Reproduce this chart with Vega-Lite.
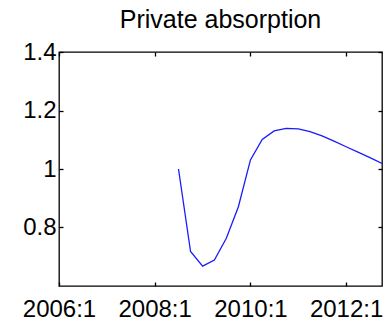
{
  "$schema": "https://vega.github.io/schema/vega-lite/v6.json",
  "autosize": "none",
  "width": 323,
  "height": 234,
  "padding": {"left": 59, "top": 52, "right": 4, "bottom": 36},
  "background": "white",
  "config": {
    "view": {"stroke": "black", "strokeWidth": 1.3},
    "font": "Liberation Sans",
    "axis": {"grid": false, "domain": false, "ticks": true, "tickColor": "black", "labelColor": "black", "labelFont": "Liberation Sans", "tickSize": -4, "tickWidth": 1.3}
  },
  "title": {"text": "Private absorption", "fontSize": 25, "fontWeight": "normal", "font": "Liberation Sans", "color": "black", "offset": 7},
  "data": {"values": [
    {"date": "2008-07-01", "value": 1.0},
    {"date": "2008-10-01", "value": 0.718},
    {"date": "2009-01-01", "value": 0.668},
    {"date": "2009-04-01", "value": 0.689},
    {"date": "2009-07-01", "value": 0.763},
    {"date": "2009-10-01", "value": 0.871},
    {"date": "2010-01-01", "value": 1.031},
    {"date": "2010-04-01", "value": 1.101},
    {"date": "2010-07-01", "value": 1.13},
    {"date": "2010-10-01", "value": 1.139},
    {"date": "2011-01-01", "value": 1.137},
    {"date": "2011-04-01", "value": 1.128},
    {"date": "2011-07-01", "value": 1.113},
    {"date": "2011-10-01", "value": 1.095},
    {"date": "2012-01-01", "value": 1.076},
    {"date": "2012-04-01", "value": 1.058},
    {"date": "2012-07-01", "value": 1.039},
    {"date": "2012-10-01", "value": 1.019}
  ]},
  "layer": [
    {
      "mark": {"type": "line", "color": "#1a1aff", "strokeWidth": 1.3, "clip": true},
      "encoding": {
        "x": {"field": "date", "type": "temporal", "scale": {"domain": [{"year": 2006, "month": 1, "date": 1}, {"year": 2012, "month": 10, "date": 1}]},
              "axis": {"title": null, "orient": "bottom", "values": [{"year": 2006, "month": 1, "date": 1}, {"year": 2008, "month": 1, "date": 1}, {"year": 2010, "month": 1, "date": 1}, {"year": 2012, "month": 1, "date": 1}], "format": "%Y:1", "labelFontSize": 24, "labelPadding": 15, "labelFlush": false, "labelOverlap": false}},
        "y": {"field": "value", "type": "quantitative", "scale": {"domain": [0.6, 1.4], "nice": false, "zero": false},
              "axis": {"title": null, "orient": "left", "values": [0.8, 1.0, 1.2, 1.4], "labelExpr": "datum.value == 1 ? '1' : format(datum.value, '.1f')", "labelFontSize": 24, "labelPadding": 7}}
      }
    },
    {
      "mark": {"type": "line", "opacity": 0},
      "encoding": {
        "x": {"field": "date", "type": "temporal", "scale": {"domain": [{"year": 2006, "month": 1, "date": 1}, {"year": 2012, "month": 10, "date": 1}]},
              "axis": {"title": null, "orient": "top", "labels": false, "values": [{"year": 2006, "month": 1, "date": 1}, {"year": 2008, "month": 1, "date": 1}, {"year": 2010, "month": 1, "date": 1}, {"year": 2012, "month": 1, "date": 1}]}},
        "y": {"field": "value", "type": "quantitative", "scale": {"domain": [0.6, 1.4], "nice": false, "zero": false},
              "axis": {"title": null, "orient": "right", "labels": false, "values": [0.8, 1.0, 1.2, 1.4]}}
      }
    }
  ],
  "resolve": {"axis": {"x": "independent", "y": "independent"}}
}
